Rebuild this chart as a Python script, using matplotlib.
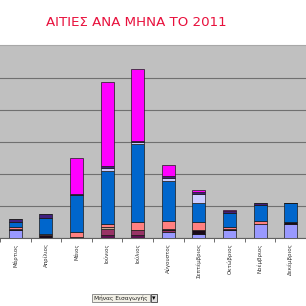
import matplotlib
matplotlib.use('Agg')
import matplotlib.pyplot as plt
import numpy as np
from matplotlib.patches import Rectangle

months = ['Μάρτιος', 'Απρίλιος', 'Μάιος', 'Ιούνιος', 'Ιούλιος', 'Αύγουστος',
          'Σεπτέμβριος', 'Οκτώβριος', 'Νοέμβριος', 'Δεκέμβριος']

dark_purple  = [0, 0, 0, 2, 2, 0, 0, 0, 0, 0]
periwinkle   = [5, 0, 0, 0, 0, 4, 3, 5, 9, 9]
plum         = [0, 0, 0, 4, 3, 1, 0, 0, 0, 0]
light_yellow = [0, 0, 0, 1, 0, 0, 0, 0, 0, 0]
black        = [1, 2, 1, 0, 0, 1, 2, 1, 0, 1]
coral        = [1, 1, 3, 2, 5, 5, 5, 1, 2, 0]
blue         = [3, 10, 23, 33, 49, 25, 12, 9, 10, 12]
lavender     = [0, 0, 0, 2, 1, 2, 6, 0, 0, 0]
navy         = [2, 2, 1, 1, 1, 1, 1, 1, 1, 0]
magenta      = [0, 0, 22, 53, 45, 7, 1, 1, 0, 0]

series = [dark_purple, periwinkle, plum, light_yellow, black, coral,
          blue, lavender, navy, magenta]
colors = ['#5C1050', '#9999FF', '#993366', '#C8A890', '#1A0A1A', '#FF8080',
          '#0066CC', '#CCCCFF', '#40207F', '#FF00FF']

W, H = 306, 306
fig = plt.figure(figsize=(W / 100, H / 100), dpi=100)
fig.patch.set_facecolor('white')

base_px, top_px = 238.3, 44.5
ax = fig.add_axes([0, (H - base_px) / H, 1, (base_px - top_px) / H])
ax.set_facecolor('#C0C0C0')

x = np.arange(len(months))
bottom = np.zeros(len(months))
for vals, c in zip(series, colors):
    v = np.array(vals, dtype=float)
    ax.bar(x, v, bottom=bottom, width=0.43, color=c, edgecolor='#1a1a1a',
           linewidth=0.5, zorder=3)
    bottom += v

ax.set_ylim(0, (base_px - top_px) / 1.6)
ax.set_xlim(-10.8 / 32.7, (W - 10.8) / 32.7)
ax.set_yticks(np.arange(0, 101, 20))
ax.yaxis.grid(True, color='#707070', linewidth=0.8, zorder=0)
ax.tick_params(axis='y', left=False, labelleft=False)

ax.set_xticks(x)
ax.set_xticklabels(months, rotation=90, fontsize=4.0, color='#333333')
ax.tick_params(axis='x', which='major', length=0, pad=3.5)
ax.set_xticks(np.arange(-0.5, len(months), 1), minor=True)
ax.tick_params(axis='x', which='minor', length=3, width=0.6, color='#555555',
               direction='out')

for s in ['left', 'right']:
    ax.spines[s].set_visible(False)
ax.spines['top'].set_color('#A8A8A8')
ax.spines['top'].set_linewidth(0.8)
ax.spines['bottom'].set_color('#606060')
ax.spines['bottom'].set_linewidth(0.8)

fig.text(136.5 / W, 1 - 23 / H, 'ΑΙΤΙΕΣ ΑΝΑ ΜΗΝΑ ΤΟ 2011', color='#E8103C',
         fontsize=9.6, ha='center', va='center')

# field button
bx0, bx1, by0, by1 = 92, 150, 294, 302.3
fig.patches.append(Rectangle((bx0 / W, 1 - by1 / H), (bx1 - bx0) / W, (by1 - by0) / H,
                             transform=fig.transFigure, facecolor='#F2F0E6',
                             edgecolor='#808080', linewidth=0.6))
fig.text((bx0 + bx1) / 2 / W, 1 - (by0 + by1) / 2 / H, 'Μήνας Εισαγωγής',
         fontsize=4.2, ha='center', va='center', color='#222222')
dx0, dx1 = 150.7, 157.3
fig.patches.append(Rectangle((dx0 / W, 1 - by1 / H), (dx1 - dx0) / W, (by1 - by0) / H,
                             transform=fig.transFigure, facecolor='#E0E0E0',
                             edgecolor='#404040', linewidth=0.6))
fig.text((dx0 + dx1) / 2 / W, 1 - (by0 + by1) / 2 / H, '▾', fontsize=5,
         ha='center', va='center', color='#000000')

fig.savefig('out.png', dpi=100)
